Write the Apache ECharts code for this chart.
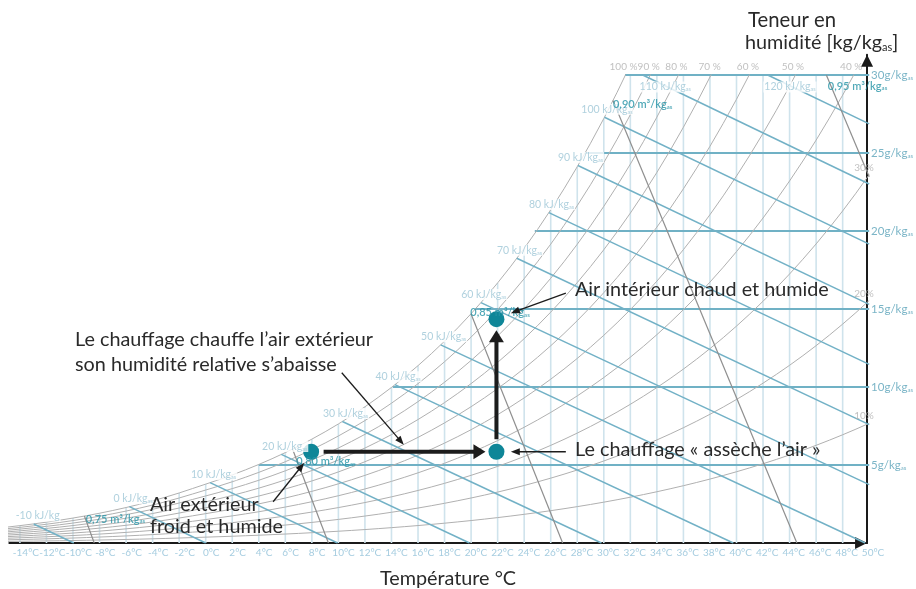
<!DOCTYPE html>
<html><head><meta charset="utf-8">
<script src="https://cdn.jsdelivr.net/npm/echarts@6/dist/echarts.min.js"></script>
<style>html,body{margin:0;padding:0;background:#fff}#c{width:916px;height:589px}</style>
</head><body><div id="c"></div>
<script>
// ---------- DATA ----------
// temperature table (°C) and saturation vapour pressure (kPa, over ice below 0 °C)
const tempTable = [-16,-15,-14,-13,-12,-11,-10,-9,-8,-7,-6,-5,-4,-3,-2,-1,0,1,2,3,4,5,6,7,8,9,10,11,12,13,14,15,16,17,18,19,20,21,22,23,24,25,26,27,28,29,30,31,32,33,34,35,36,37,38,39,40,41,42,43,44,45,46,47,48,49,50];
const satPressure = [0.1507,0.1652,0.1811,0.1984,0.2172,0.2376,0.2598,0.2839,0.3100,0.3384,0.3692,0.4025,0.4386,0.4777,0.5198,0.5653,0.6112,0.6571,0.7060,0.7581,0.8135,0.8726,0.9354,1.0021,1.0730,1.1482,1.2282,1.3130,1.4028,1.4981,1.5990,1.7058,1.8188,1.9384,2.0647,2.1983,2.3393,2.4882,2.6453,2.8111,2.9858,3.1699,3.3639,3.5681,3.7831,4.0092,4.2470,4.4969,4.7596,5.0354,5.3251,5.6290,5.9479,6.2823,6.6328,7.0002,7.3849,7.7878,8.2096,8.6508,9.1124,9.5950,10.099,10.627,11.177,11.752,12.352];

const tempTicks = [-14,-12,-10,-8,-6,-4,-2,0,2,4,6,8,10,12,14,16,18,20,22,24,26,28,30,32,34,36,38,40,42,44,46,48,50];
const gridTemps = [-14,-12,-10,-8,-6,-4,-2,0,2,4,6,8,10,12,14,16,18,20,22,24,26,28,30,32,34,36,38,40,42,44,46,48];
const humidityTicks = [5,10,15,20,25,30];
const humidityLevels = [5,10,15,20,25,30];          // g/kg
const humidityDewT = [4.0,14.1,20.3,24.8,28.6,31.6]; // °C where each level meets saturation

const rhLevels = [100,90,80,70,60,50,40,30,20,10];
const rhLabels = ['100 %','90 %','80 %','70 %','60 %','50 %','40 %','30%','20%','10%'];
const rhLabelT = [31.6,33.5,35.6,38.1,41.0,44.4,48.8,50,50,50];
const rhLabelW = [30,30,30,30,30,30,30,23.6,15.5,7.7];

const enthalpyLevels = [-10,0,10,20,30,40,50,60,70,80,90,100,110,120]; // kJ/kg
const enthalpyStartT = [-12.96,-5.75,0.33,5.70,10.30,14.26,17.71,20.74,23.44,25.86,28.05,30.05,32.93,42.35];
const enthalpyStartW = [1.22,2.33,3.87,5.68,7.79,10.15,12.70,15.41,18.25,21.18,24.20,27.29,30,30];
const enthalpyEndT = [-9.94,0,9.94,19.88,29.82,39.76,49.70,50,50,50,50,50,50,50];
const enthalpyEndW = [0,0,0,0,0,0,0,3.74,7.59,11.45,15.30,19.16,23.01,26.87];

const volumeLevels = ['0,75','0,80','0,85','0,90','0,95']; // m³/kg
const volumeStartT = [-9.14,6.54,19.99,30.69,46.77];
const volumeStartW = [1.73,6.02,14.70,28.37,30];
const volumeEndT = [-8.40,9.25,26.90,44.55,50];
const volumeEndW = [0,0,0,0,23.48];

// air states: outdoor, heated, indoor
const stateT = [8,22,22];
const stateW = [5.85,5.85,14.35];

const annotationTexts = [
  ['Air intérieur chaud et humide'],
  ['Le chauffage « assèche l\u2019air »'],
  ['Air extérieur','froid et humide'],
  ['Le chauffage chauffe l\u2019air extérieur','son humidité relative s\u2019abaisse']
];

// ---------- helpers ----------
const P_ATM = 101.325;
const humidityRatio = pv => 621.98 * pv / (P_ATM - pv); // g/kg

const FONT = 'Lato, "Open Sans", sans-serif';
const TEXT_DARK = '#2a2a2a';
const X_MIN = -14.8, X_MAX = 50;
const gridBase = {left: 9.3, right: 46.8, bottom: 46};

const series = [];

// vertical temperature lines (up to saturation)
gridTemps.forEach(t => {
  const i = tempTable.indexOf(t);
  const top = Math.min(humidityRatio(satPressure[i]), 30);
  series.push({type:'line', xAxisIndex:0, yAxisIndex:0, silent:true, symbol:'none', z:1,
    lineStyle:{color:'#cfe3ec', width:1.6}, data:[[t,0],[t,top]]});
});
// horizontal humidity lines
humidityLevels.forEach((w,i) => {
  series.push({type:'line', xAxisIndex:0, yAxisIndex:0, silent:true, symbol:'none', z:2,
    lineStyle:{color:'#70b1c5', width:2}, data:[[humidityDewT[i],w],[X_MAX,w]]});
});
// relative humidity curves
rhLevels.forEach(rh => {
  series.push({type:'line', xAxisIndex:0, yAxisIndex:0, silent:true, symbol:'none', z:2, clip:true,
    lineStyle:{color:'#b0b0b0', width:1},
    data: tempTable.map((t,i) => [t, humidityRatio(rh/100*satPressure[i])])});
});
// enthalpy lines
enthalpyLevels.forEach((h,i) => {
  series.push({type:'line', xAxisIndex:0, yAxisIndex:0, silent:true, symbol:'none', z:3,
    lineStyle:{color:'#72b1c6', width:1.5},
    data:[[enthalpyStartT[i],enthalpyStartW[i]],[enthalpyEndT[i],enthalpyEndW[i]]]});
});
// specific volume lines
volumeLevels.forEach((v,i) => {
  series.push({type:'line', xAxisIndex:0, yAxisIndex:0, silent:true, symbol:'none', z:3,
    lineStyle:{color:'#8f8f8f', width:1.2},
    data:[[volumeStartT[i],volumeStartW[i]],[volumeEndT[i],volumeEndW[i]]]});
});

const subRich = {s:{fontSize:5.5, verticalAlign:'bottom', fontFamily:FONT}};
const invisible = {color:'rgba(0,0,0,0)'};

// RH labels
series.push({type:'scatter', xAxisIndex:1, yAxisIndex:1, silent:true, clip:false, z:6, symbolSize:1, itemStyle:invisible,
  data: rhLevels.map((rh,i) => ({value:[rhLabelT[i], rhLabelW[i]], name:rhLabels[i],
    label:{offset: rhLabelT[i] >= 50 ? [-3,1] : [0,0]}})),
  label:{show:true, position:'top', distance:3, formatter:p=>p.name, color:'#b0b0b0', fontSize:10, fontFamily:FONT}
});
// enthalpy labels
series.push({type:'scatter', xAxisIndex:1, yAxisIndex:1, silent:true, clip:false, z:7, symbolSize:1, itemStyle:invisible,
  data: enthalpyLevels.map((h,i) => {
    const item = {value:[enthalpyStartT[i], enthalpyStartW[i]], name: h < 0 ? `${h} kJ/kg` : `${h} kJ/kg{s|as}`};
    if (enthalpyStartW[i] >= 30) item.label = {position:'right', distance:0, offset:[-3,12]};
    return item;
  }),
  label:{show:true, position:'top', distance:2, offset:[4,0], formatter:p=>p.name, color:'#9cc6d6', fontSize:10.5,
    fontFamily:FONT, backgroundColor:'#fff', padding:[0,1], rich:subRich}
});
// volume labels
const volumeLabelOffsets = [[1,3],[4,12],[0,-1],[1,4],[3,11]];
series.push({type:'scatter', xAxisIndex:1, yAxisIndex:1, silent:true, clip:false, z:7, symbolSize:1, itemStyle:invisible,
  data: volumeLevels.map((v,i) => ({value:[volumeStartT[i], volumeStartW[i]], name:`${v} m³/kg{s|as}`,
    label:{offset:volumeLabelOffsets[i]}})),
  label:{show:true, position:'right', distance:0, formatter:p=>p.name, color:'#2593a6', fontSize:11, fontWeight:600,
    fontFamily:FONT, rich:{s:{fontSize:6, verticalAlign:'bottom', fontWeight:600}}}
});

// process arrows (thick)
const processSteps = [[0,1],[1,2]];
series.push({type:'custom', xAxisIndex:1, yAxisIndex:1, silent:true, z:5,
  encode:{x:[0,2], y:[1,3]},
  data: processSteps.map(([a,b]) => [stateT[a],stateW[a],stateT[b],stateW[b]]),
  renderItem(params, api){
    const p1 = api.coord([api.value(0), api.value(1)]);
    const p2 = api.coord([api.value(2), api.value(3)]);
    const dx = p2[0]-p1[0], dy = p2[1]-p1[1], len = Math.hypot(dx,dy);
    const ux = dx/len, uy = dy/len, nx = -uy, ny = ux;
    const gapS = 12.5, gapE = 11, headL = 12, headW = 7.5;
    const s = [p1[0]+ux*gapS, p1[1]+uy*gapS];
    const tip = [p2[0]-ux*gapE, p2[1]-uy*gapE];
    const base = [tip[0]-ux*headL, tip[1]-uy*headL];
    return {type:'group', children:[
      {type:'line', shape:{x1:s[0],y1:s[1],x2:base[0]+ux*2,y2:base[1]+uy*2}, style:{stroke:'#1c1c1c', lineWidth:4}},
      {type:'polygon', shape:{points:[tip,[base[0]+nx*headW,base[1]+ny*headW],[base[0]-nx*headW,base[1]-ny*headW]]}, style:{fill:'#1c1c1c'}}
    ]};
  }
});
// state points
series.push({type:'scatter', xAxisIndex:1, yAxisIndex:1, silent:true, z:6, symbolSize:16,
  itemStyle:{color:'#0e8698', opacity:1}, data: stateT.map((t,i) => [t, stateW[i]])});

// annotation pointers: targets in data space, tip/tail as pixel offsets (style)
const pointerTargets = [
  [stateT[2], stateW[2]],
  [stateT[1], stateW[1]],
  [stateT[0], stateW[0]],
  [(stateT[0]+stateT[1])/2, stateW[0]]
];
const pointerGeom = [
  {tip:[14.4,-6], tail:[69.4,-26]},
  {tip:[14.4,0], tail:[69.4,0]},
  {tip:[-7,11.3], tail:[-38,50]},
  {tip:[0,-7], tail:[-62,-79]}
];
series.push({type:'custom', xAxisIndex:1, yAxisIndex:1, silent:true, z:8,
  data: pointerTargets,
  renderItem(params, api){
    const c = api.coord([api.value(0), api.value(1)]);
    const g = pointerGeom[params.dataIndex];
    const tip = [c[0]+g.tip[0], c[1]+g.tip[1]];
    const tail = [c[0]+g.tail[0], c[1]+g.tail[1]];
    const dx = tip[0]-tail[0], dy = tip[1]-tail[1], len = Math.hypot(dx,dy);
    const ux = dx/len, uy = dy/len, nx = -uy, ny = ux;
    const headL = 9, headW = 3.5;
    const base = [tip[0]-ux*headL, tip[1]-uy*headL];
    return {type:'group', children:[
      {type:'line', shape:{x1:tail[0],y1:tail[1],x2:base[0]+ux,y2:base[1]+uy}, style:{stroke:'#1c1c1c', lineWidth:1.3}},
      {type:'polygon', shape:{points:[tip,[base[0]+nx*headW,base[1]+ny*headW],[base[0]-nx*headW,base[1]-ny*headW]]}, style:{fill:'#1c1c1c'}}
    ]};
  }
});

// ---------- text layout ----------
const FS = 19.8;
const textStyle = (text, x, y, extra) => ({type:'text', x, y, z:20, silent:true,
  style:Object.assign({text, font:`${FS}px ${FONT}`, fill:TEXT_DARK, verticalAlign:'middle', align:'left'}, extra||{})});
const annotationPos = [
  [[575,290]],
  [[575,450]],
  [[150,505],[150,527]],
  [[75,340],[75,365]]
];
const graphic = [];
annotationTexts.forEach((lines,i) => lines.forEach((t,j) => graphic.push(textStyle(t, annotationPos[i][j][0], annotationPos[i][j][1]))));
graphic.push(textStyle('Teneur en', 748, 20, {font:`${FS+0.5}px ${FONT}`}));
graphic.push({type:'text', x:745, y:43, z:20, silent:true, style:{text:'humidité [kg/kg{s|as}]', font:`${FS}px ${FONT}`, fill:TEXT_DARK,
  verticalAlign:'middle', rich:{s:{fontSize:11, verticalAlign:'bottom', fontFamily:FONT, fill:TEXT_DARK}}}});
graphic.push(textStyle('Température °C', 448, 579, {align:'center'}));

const chart = echarts.init(document.getElementById('c'));
chart.setOption({
  animation:false,
  backgroundColor:'#fff',
  grid:[Object.assign({top:75}, gridBase), Object.assign({top:54.7}, gridBase)],
  xAxis:[
    {gridIndex:0, type:'value', min:X_MIN, max:X_MAX, show:false},
    {gridIndex:1, type:'value', min:X_MIN, max:X_MAX, splitLine:{show:false}, axisTick:{show:false},
      axisLine:{show:true, lineStyle:{color:'#1a1a1a', width:2}, symbol:['none','triangle'], symbolSize:[12,12], symbolOffset:[0,-6]},
      axisLabel:{customValues:tempTicks, formatter:v=>`${v}°C`, color:'#a6cde0', fontSize:10, fontFamily:FONT, margin:5,
        padding:[0,0,0,12], hideOverlap:false, showMinLabel:true, showMaxLabel:true}}
  ],
  yAxis:[
    {gridIndex:0, type:'value', min:0, max:30, show:false},
    {gridIndex:1, type:'value', min:0, max:31.3, position:'right', splitLine:{show:false}, axisTick:{show:false},
      axisLine:{show:true, onZero:false, lineStyle:{color:'#1a1a1a', width:2}, symbol:['none','triangle'], symbolSize:[12,12], symbolOffset:[0,-6]},
      axisLabel:{customValues:humidityTicks, formatter:v=>`{a|${v}g/kg}{s|as}`, margin:4,
        rich:{a:{color:'#7bb5c7', fontSize:11.5, fontFamily:FONT}, s:{color:'#7bb5c7', fontSize:6, verticalAlign:'bottom', fontFamily:FONT}}}}
  ],
  series,
  graphic
});
</script></body></html>
